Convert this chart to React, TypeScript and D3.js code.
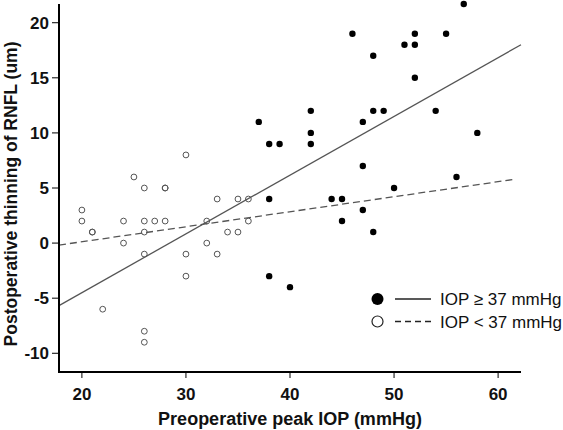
import React from "react";
import * as d3 from "d3";

// Data
const highIOP_x = [37, 38, 38, 38, 39, 40, 42, 42, 42, 44, 45, 45, 46, 47, 47, 47, 48, 48, 48, 49, 50, 51, 52, 52, 52, 54, 55, 56, 56.7, 58];
const highIOP_y = [11, 9, 4, -3, 9, -4, 12, 10, 9, 4, 4, 2, 19, 11, 7, 3, 17, 12, 1, 12, 5, 18, 19, 18, 15, 12, 19, 6, 21.7, 10];
const lowIOP_x = [20, 20, 21, 21, 22, 24, 24, 25, 26, 26, 26, 26, 26, 26, 27, 28, 28, 28, 30, 30, 30, 32, 32, 33, 33, 34, 35, 35, 36, 36];
const lowIOP_y = [3, 2, 1, 1, -6, 2, 0, 6, 5, 2, 1, -1, -8, -9, 2, 5, 5, 2, 8, -1, -3, 2, 0, 4, -1, 1, 4, 1, 4, 2];
const solidFitX = [17.8, 62.2];
const solidFitY = [-5.67, 18.0];
const dashedFitX = [17.8, 61.6];
const dashedFitY = [-0.18, 5.79];
const xTicks = [20, 30, 40, 50, 60];
const yTicks = [-10, -5, 0, 5, 10, 15, 20];
const xDomain = [17.8, 62.2];
const yDomain = [-11.7, 21.7];
const legendLabels = ["IOP \u2265 37 mmHg", "IOP < 37 mmHg"];
const xTitle = "Preoperative peak IOP (mmHg)";
const yTitle = "Postoperative thinning of RNFL (um)";

const W = 563;
const H = 430;
const left = 59;
const right = 521;
const top = 4;
const bottom = 372;

export default function App() {
  const x = d3.scaleLinear().domain(xDomain).range([left, right]);
  const y = d3.scaleLinear().domain(yDomain).range([bottom, top]);
  const line = d3
    .line<[number, number]>()
    .x((d) => x(d[0]))
    .y((d) => y(d[1]));
  const solidPts: [number, number][] = solidFitX.map((v, i) => [v, solidFitY[i]]);
  const dashedPts: [number, number][] = dashedFitX.map((v, i) => [v, dashedFitY[i]]);
  const font = "'Liberation Sans', Arial, Helvetica, sans-serif";

  return (
    <svg
      width={W}
      height={H}
      style={{ position: "absolute", left: 0, top: 0, background: "#fff" }}
      fontFamily={font}
    >
      <rect x={0} y={0} width={W} height={H} fill="#fff" />
      {/* fit lines */}
      <path d={line(solidPts) || ""} fill="none" stroke="#555" strokeWidth={1.3} />
      <path d={line(dashedPts) || ""} fill="none" stroke="#555" strokeWidth={1.3} strokeDasharray="7,4" />
      {/* open circles */}
      {lowIOP_x.map((v, i) => (
        <circle key={"o" + i} cx={x(v)} cy={y(lowIOP_y[i])} r={2.9} fill="none" stroke="#555" strokeWidth={1} />
      ))}
      {/* filled circles */}
      {highIOP_x.map((v, i) => (
        <circle key={"f" + i} cx={x(v)} cy={y(highIOP_y[i])} r={3.2} fill="#000" />
      ))}
      {/* axes */}
      <line x1={left} x2={left} y1={top} y2={bottom + 1} stroke="#000" strokeWidth={2} />
      <line x1={left - 1} x2={right} y1={bottom} y2={bottom} stroke="#000" strokeWidth={2} />
      {yTicks.map((t) => (
        <g key={"yt" + t}>
          <line x1={left - 7} x2={left} y1={y(t)} y2={y(t)} stroke="#000" strokeWidth={1} />
          <text x={left - 10} y={y(t)} dy="0.36em" textAnchor="end" fontSize={17} fontWeight="bold" fill="#111">
            {t}
          </text>
        </g>
      ))}
      {xTicks.map((t) => (
        <g key={"xt" + t}>
          <line x1={x(t)} x2={x(t)} y1={bottom} y2={bottom + 6} stroke="#000" strokeWidth={1} />
          <text x={x(t)} y={bottom + 28} textAnchor="middle" fontSize={17} fontWeight="bold" fill="#111">
            {t}
          </text>
        </g>
      ))}
      <text x={290} y={425} textAnchor="middle" fontSize={18} fontWeight="bold" fill="#111">
        {xTitle}
      </text>
      <text
        transform={`translate(17, 194) rotate(-90)`}
        textAnchor="middle"
        fontSize={17.5}
        fontWeight="bold"
        fill="#111"
      >
        {yTitle}
      </text>
      {/* legend */}
      <circle cx={377.5} cy={299} r={6} fill="#000" />
      <circle cx={377.5} cy={321.5} r={5.5} fill="#fff" stroke="#222" strokeWidth={1.2} />
      <line x1={395} x2={431} y1={299} y2={299} stroke="#222" strokeWidth={1.3} />
      <line x1={395} x2={431} y1={321.5} y2={321.5} stroke="#222" strokeWidth={1.3} strokeDasharray="6,4" />
      <text x={440} y={299} dy="0.36em" fontSize={17} fill="#111">
        {legendLabels[0]}
      </text>
      <text x={440} y={321.5} dy="0.36em" fontSize={17} fill="#111">
        {legendLabels[1]}
      </text>
    </svg>
  );
}
